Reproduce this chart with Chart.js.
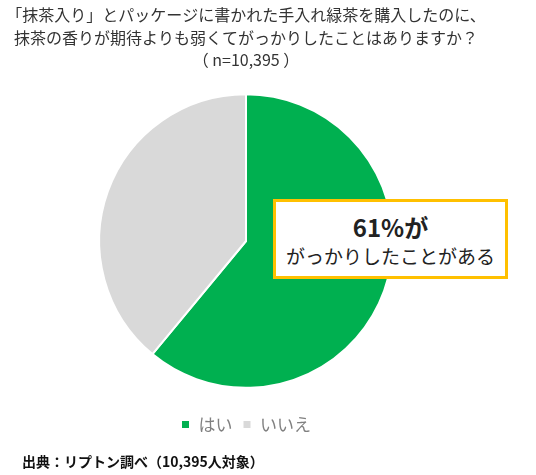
<!DOCTYPE html>
<html>
<head>
<meta charset="utf-8">
<script src="https://cdn.jsdelivr.net/npm/chart.js@4.4.1/dist/chart.umd.min.js"></script>
<style>
  html, body { margin: 0; padding: 0; background: #fff; }
  #wrap { position: relative; width: 536px; height: 475px; }
  #callout {
    position: absolute; left: 273px; top: 199px; width: 229px; height: 74px;
    border: 3px solid #FFC000; background: #fff; text-align: center;
    font-family: 'Noto Sans CJK JP', sans-serif; color: #222;
  }
  #callout .big { font-size: 24px; font-weight: bold; line-height: 30px; margin-top: 10px; }
  #callout .small { font-size: 19px; line-height: 28px; }
  #source {
    position: absolute; left: 22px; top: 451px;
    font-family: 'Noto Sans CJK JP', sans-serif; font-size: 14px; font-weight: bold; color: #111;
  }
</style>
</head>
<body>
<div id="wrap">
  <canvas id="myChart" width="536" height="475"></canvas>
  <div id="callout">
    <div class="big">61%が</div>
    <div class="small">がっかりしたことがある</div>
  </div>
  <div id="source">出典：リプトン調べ（10,395人対象）</div>
</div>
<script>
const titleLines = [
  '「抹茶入り」とパッケージに書かれた手入れ緑茶を購入したのに、',
  '抹茶の香りが期待よりも弱くてがっかりしたことはありますか？',
  '（ n=10,395 ）'
]
const labels = ['はい', 'いいえ']
const values = [61, 39]
const colors = ['#00B050', '#D9D9D9']

const ctx = document.getElementById('myChart')
const chart = new Chart(ctx, {
  type: 'pie',
  data: {
    labels: labels,
    datasets: [{
      data: values,
      backgroundColor: colors,
      borderColor: '#fff',
      borderWidth: 2
    }]
  },
  options: {
    responsive: false,
    animation: false,
    layout: { padding: { left: 0, right: 44, top: 0, bottom: 32 } },
    plugins: {
      tooltip: { enabled: false },
      title: {
        display: true,
        text: titleLines,
        color: '#333',
        font: { family: "'Noto Sans CJK JP', sans-serif", size: 16, weight: 'normal', lineHeight: 1.4 },
        padding: { top: 4, bottom: 22 }
      },
      legend: {
        position: 'bottom',
        title: { display: true, text: ' ', font: { size: 1 }, padding: { top: 0, bottom: 16 } },
        labels: {
          boxWidth: 9,
          boxHeight: 9,
          padding: 10,
          color: '#808080',
          font: { family: "'Noto Sans CJK JP', sans-serif", size: 17 }
        }
      }
    }
  }
})
</script>
</body>
</html>
